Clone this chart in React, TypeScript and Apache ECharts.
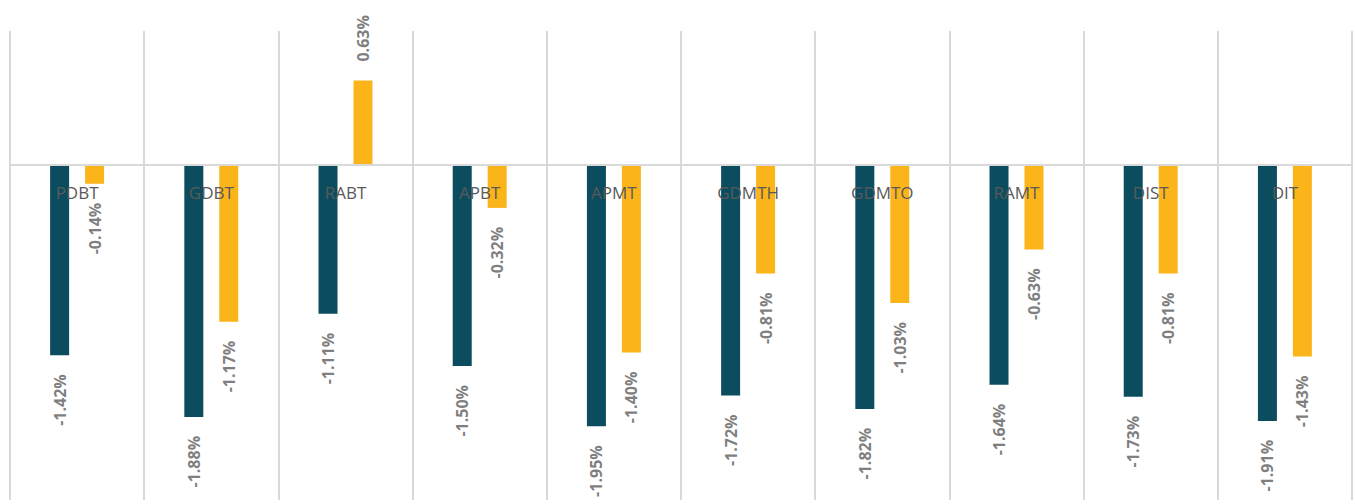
import React, { useEffect, useRef } from "react";
import * as echarts from "echarts";

const categories = ["PDBT", "GDBT", "RABT", "APBT", "APMT", "GDMTH", "GDMTO", "RAMT", "DIST", "DIT"];
const seriesA = [-1.42, -1.88, -1.11, -1.5, -1.95, -1.72, -1.82, -1.64, -1.73, -1.91];
const seriesB = [-0.14, -1.17, 0.63, -0.32, -1.4, -0.81, -1.03, -0.63, -0.81, -1.43];

const toItems = (vals: number[]) =>
  vals.map((v) => ({
    value: v,
    label: {
      position: v < 0 ? "bottom" : "top",
      align: v < 0 ? "right" : "left",
    },
  }));

export default function App() {
  const ref = useRef<HTMLDivElement>(null);
  useEffect(() => {
    if (!ref.current) return;
    const chart = echarts.init(ref.current, undefined, { renderer: "svg" });
    const labelBase = {
      show: true,
      rotate: 90,
      verticalAlign: "middle",
      distance: 19,
      color: "#7f7f7f",
      fontSize: 16,
      fontWeight: "bold",
      fontFamily: "Open Sans",
      formatter: (p: any) => p.value.toFixed(2) + "%",
    };
    const top = 31;
    const bottom = 4;
    const yMin = -2.5;
    const yMax = 1;
    const plotH = 504 - top - bottom;
    const zeroFromBottom = (plotH * (0 - yMin)) / (yMax - yMin);
    chart.setOption({
      animation: false,
      grid: { left: 10, right: 3, top, bottom, containLabel: false, outerBoundsMode: "none" },
      xAxis: {
        type: "category",
        data: categories,
        z: 5,
        position: "bottom",
        offset: -zeroFromBottom,
        axisLine: { show: true, onZero: false, lineStyle: { color: "#d9d9d9", width: 2 } },
        axisTick: { show: false },
        axisLabel: { color: "#595959", fontSize: 17, margin: 19, fontFamily: "Open Sans" },
        splitLine: { show: true, lineStyle: { color: "#d9d9d9", width: 2 } },
      },
      yAxis: {
        type: "value",
        min: yMin,
        max: yMax,
        show: false,
        splitLine: { show: false },
      },
      series: [
        {
          type: "bar",
          data: toItems(seriesA),
          barWidth: 19,
          barGap: "84%",
          itemStyle: { color: "#0b4d5f" },
          label: labelBase,
        },
        {
          type: "bar",
          data: toItems(seriesB),
          barWidth: 19,
          itemStyle: { color: "#fbb41a" },
          label: labelBase,
        },
      ],
    });
    return () => chart.dispose();
  }, []);
  return (
    <div
      ref={ref}
      style={{ position: "fixed", left: 0, top: 0, width: 1355, height: 504, background: "#fff" }}
    />
  );
}
